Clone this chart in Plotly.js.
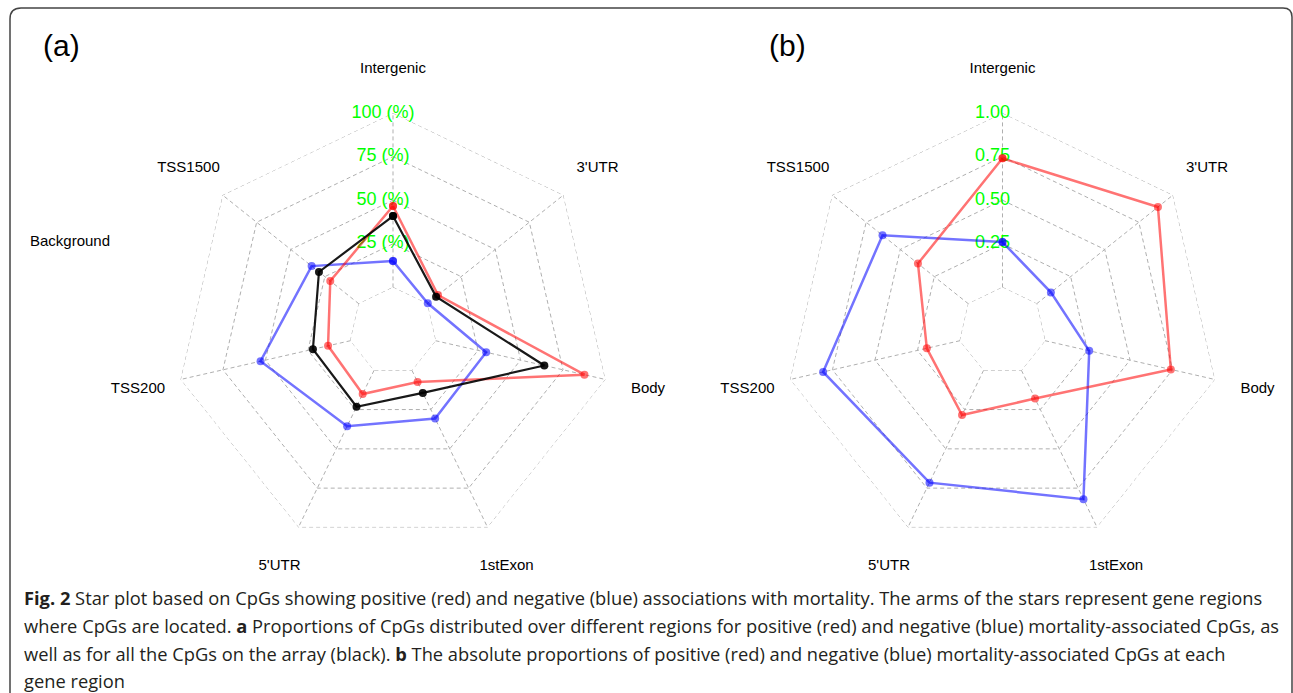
<!DOCTYPE html>
<html>
<head>
<meta charset="utf-8">
<script src="https://cdn.plot.ly/plotly-3.0.1.min.js"></script>
<style>html,body{margin:0;padding:0;background:#fff;}#chart{width:1293px;height:693px;}</style>
</head>
<body>
<div id="chart"></div>
<script>
// ---- data ----
const categories = ["Intergenic", "3'UTR", "Body", "1stExon", "5'UTR", "TSS200", "TSS1500"];
// panel (a): percentages
const aPositive   = [46.7, 8.0, 87.6, 7.5, 15.1, 13.2, 21.0];
const aNegative   = [15.1, 0.5, 29.8, 30.7, 35.6, 52.9, 34.7];
const aBackground = [40.9, 6.6, 64.0, 14.4, 23.2, 22.1, 29.3];
// panel (b): absolute proportions
const bPositive = [0.74, 0.89, 0.74, 0.18, 0.285, 0.195, 0.37];
const bNegative = [0.26, 0.105, 0.26, 0.82, 0.715, 0.805, 0.63];
// axis labels
const aTickVals = [0, 25, 50, 75, 100];
const aTickText = ["0", "25 (%)", "50 (%)", "75 (%)", "100 (%)"];
const bTickVals = [0, 0.25, 0.5, 0.75, 1];
const bTickText = ["0", "0.25", "0.50", "0.75", "1.00"];

const captionLines = [
  "<b>Fig. 2</b> Star plot based on CpGs showing positive (red) and negative (blue) associations with mortality. The arms of the stars represent gene regions",
  "where CpGs are located. <b>a</b> Proportions of CpGs distributed over different regions for positive (red) and negative (blue) mortality-associated CpGs, as",
  "well as for all the CpGs on the array (black). <b>b</b> The absolute proportions of positive (red) and negative (blue) mortality-associated CpGs at each",
  "gene region"
];

// ---- helpers ----
const W = 1293, H = 693;
const px = v => v / W;
const py = v => 1 - v / H;
const closeR = arr => arr.concat([arr[0]]);
const closeT = () => categories.concat([categories[0]]);
const GRID = "rgb(175,175,175)";
const NBSP = "\u00A0\u00A0\u00A0\u00A0";
const ARIAL = "Liberation Sans, Arial, sans-serif";

function gridTraces(sub, levels, maxV) {
  const t = [];
  levels.forEach(l => {
    t.push({type: "scatterpolar", subplot: sub, mode: "lines",
      r: closeR(categories.map(() => l)), theta: closeT(),
      line: {color: GRID, width: 1, dash: "4px,3px"}, hoverinfo: "skip"});
  });
  const r = [], th = [];
  categories.forEach(c => { r.push(levels[0], maxV, null); th.push(c, c, null); });
  t.push({type: "scatterpolar", subplot: sub, mode: "lines", r: r, theta: th, connectgaps: false,
    line: {color: GRID, width: 1, dash: "4px,3px"}, hoverinfo: "skip"});
  return t;
}
function tickLabelTrace(sub, vals, texts) {
  return {type: "scatterpolar", subplot: sub, mode: "text",
    r: vals, theta: vals.map(() => categories[0]),
    text: texts.map(s => s + NBSP), textposition: "middle center", cliponaxis: false,
    textfont: {family: ARIAL, size: 18, color: "#00ff00"}, hoverinfo: "skip"};
}
// category names sit on the outer edge of an invisible, larger polar frame
function catLabelTrace(sub) {
  return {type: "scatterpolar", subplot: sub, mode: "text",
    r: categories.map(() => 1), theta: categories, text: categories,
    textposition: "middle center", cliponaxis: false,
    textfont: {family: ARIAL, size: 15, color: "#000"}, hoverinfo: "skip"};
}
function series(sub, vals, color, w) {
  return {type: "scatterpolar", subplot: sub, mode: "lines+markers",
    r: closeR(vals), theta: closeT(), cliponaxis: false,
    line: {color: color, width: w}, marker: {color: color, size: 8}};
}

const RED = "rgba(255,0,0,0.55)", BLUE = "rgba(0,0,255,0.55)", BLACK = "rgba(0,0,0,0.9)";

const traces = [].concat(
  gridTraces("polar", aTickVals, 100),
  [tickLabelTrace("polar", aTickVals, aTickText), catLabelTrace("polar3")],
  [series("polar", aNegative, BLUE, 2.5), series("polar", aPositive, RED, 2.5), series("polar", aBackground, BLACK, 2.2)],
  gridTraces("polar2", bTickVals, 1),
  [tickLabelTrace("polar2", bTickVals, bTickText), catLabelTrace("polar4")],
  [series("polar2", bNegative, BLUE, 2.5), series("polar2", bPositive, RED, 2.5)]
);

function polarCfg(cx, cy, rad, maxV, hole) {
  return {
    domain: {x: [px(cx - rad), px(cx + rad)], y: [py(cy + rad), py(cy - rad)]},
    hole: hole, gridshape: "linear", bgcolor: "rgba(0,0,0,0)",
    radialaxis: {range: [0, maxV], autorange: false, visible: false, showgrid: false, showline: false, showticklabels: false, ticks: ""},
    angularaxis: {type: "category", categoryarray: categories, rotation: 90, direction: "clockwise",
      showgrid: false, showline: false, showticklabels: false, ticks: ""}
  };
}

const annotations = [
  {text: "(a)", x: px(61), y: py(45), xref: "paper", yref: "paper", xanchor: "center", yanchor: "middle", showarrow: false,
   font: {family: ARIAL, size: 30, color: "#000"}},
  {text: "(b)", x: px(787), y: py(45), xref: "paper", yref: "paper", xanchor: "center", yanchor: "middle", showarrow: false,
   font: {family: ARIAL, size: 30, color: "#000"}},
  {text: "Background", x: px(28), y: py(241), xref: "paper", yref: "paper", xanchor: "left", yanchor: "middle", showarrow: false,
   font: {family: ARIAL, size: 15, color: "#000"}}
];
const capY = [597, 625, 653, 680];
captionLines.forEach((s, i) => annotations.push({
  text: s, x: px(22), y: py(capY[i]), xref: "paper", yref: "paper", xanchor: "left", yanchor: "middle",
  showarrow: false, font: {family: "Open Sans, sans-serif", size: 18.3, color: "#231f20"}
}));

const borderPath = "M " + px(10) + "," + py(700) + " L " + px(10) + "," + py(19) +
  " Q " + px(10) + "," + py(8) + " " + px(21) + "," + py(8) +
  " L " + px(1283) + "," + py(8) + " Q " + px(1292) + "," + py(8) + " " + px(1292) + "," + py(17) +
  " L " + px(1292) + "," + py(700);

const R = 218, CY = 331;
const layout = {
  width: W, height: H, margin: {l: 0, r: 0, t: 0, b: 0},
  paper_bgcolor: "#fff", plot_bgcolor: "#fff", showlegend: false,
  polar: polarCfg(393, CY, R, 100, 0.2),
  polar2: polarCfg(1002.5, CY, R, 1, 0.2),
  polar3: polarCfg(393, CY, R * 1.2, 1, 0),
  polar4: polarCfg(1002.5, CY, R * 1.2, 1, 0),
  annotations: annotations,
  shapes: [{type: "path", xref: "paper", yref: "paper", path: borderPath, line: {color: "#444", width: 1.5}}]
};

Plotly.newPlot("chart", traces, layout, {displayModeBar: false, staticPlot: true});
</script>
</body>
</html>
